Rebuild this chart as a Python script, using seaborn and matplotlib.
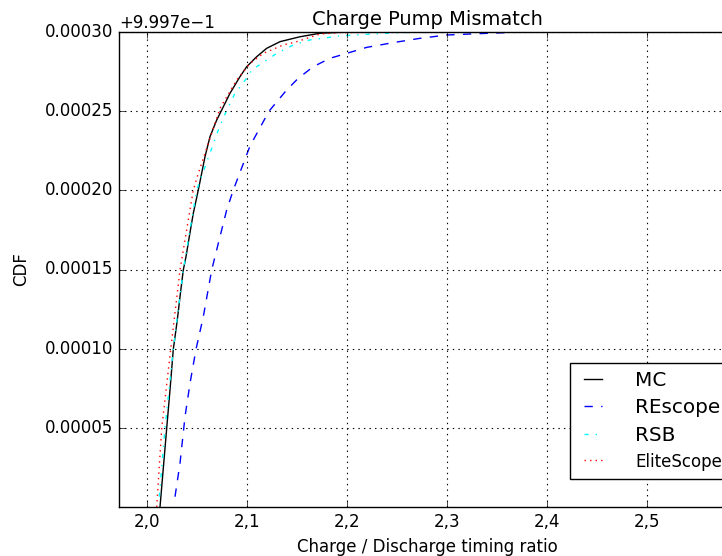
import numpy as np
import pandas as pd
import seaborn as sns
import matplotlib.pyplot as plt
from matplotlib.ticker import FuncFormatter

plt.style.use("classic")
plt.rcParams.update({
    "figure.facecolor": "white",
    "savefig.facecolor": "white",
    "font.family": "DejaVu Sans",
})

OFFSET = 0.9997
SCALE = 1e-5  # y values below are CDF - OFFSET, in units of 1e-5

mc_x = [2.013, 2.0197, 2.023, 2.0263, 2.0303, 2.033, 2.0363, 2.039, 2.0423, 2.0463, 2.0513,
        2.058, 2.063, 2.0697, 2.0747, 2.083, 2.093, 2.0997, 2.1097, 2.1197, 2.133, 2.153,
        2.173, 2.193, 2.25, 2.38]
mc_y = [0, 4.97, 7.39, 9.96, 11.81, 13.28, 14.97, 15.81, 17.07, 18.55, 20.02,
        22.12, 23.39, 24.44, 25.07, 26.13, 27.18, 27.81, 28.44, 28.97, 29.39, 29.7,
        29.92, 29.98, 30, 30]

rescope_x = [2.028, 2.033, 2.038, 2.043, 2.049, 2.0563, 2.0647, 2.0713, 2.0797, 2.0863,
             2.0913, 2.103, 2.122, 2.1397, 2.1513, 2.1663, 2.183, 2.1997, 2.2197, 2.2463,
             2.273, 2.2997, 2.333, 2.376]
rescope_y = [0.65, 2.76, 5.7, 7.81, 9.96, 12.02, 14.97, 16.65, 18.76, 20.02,
             20.85, 22.8, 25.0, 26.34, 27.08, 27.81, 28.34, 28.65, 29.03, 29.33,
             29.6, 29.81, 29.9, 30]

rsb_x = [2.0123, 2.018, 2.0263, 2.0363, 2.0497, 2.0713, 2.0797, 2.088, 2.0997, 2.1047,
         2.1197, 2.1297, 2.1463, 2.163, 2.193, 2.223, 2.26, 2.30]
rsb_y = [0.65, 4.97, 9.96, 14.97, 20.02, 23.81, 25.07, 26.13, 27.08, 27.6,
         28.23, 28.65, 29.18, 29.5, 29.75, 29.87, 29.97, 30]

elite_x = [2.0097, 2.0147, 2.0237, 2.033, 2.0463, 2.0513, 2.058, 2.073, 2.0897, 2.103,
           2.1163, 2.1363, 2.1497, 2.173, 2.193, 2.213, 2.25, 2.30]
elite_y = [0, 4.97, 9.96, 14.97, 20.02, 21.07, 22.34, 25.18, 26.97, 28.02,
           28.65, 29.18, 29.39, 29.87, 29.96, 29.97, 30, 30]

xticks = [2.0, 2.1, 2.2, 2.3, 2.4, 2.5]
yticks_res = [5, 10, 15, 20, 25, 30]

fig = plt.figure(figsize=(7.22, 5.56), dpi=100)
ax = fig.add_axes([119 / 722, 49 / 556, 616 / 722, 475 / 556])

series = [
    ("MC", mc_x, mc_y, "black", "-"),
    ("REscope", rescope_x, rescope_y, "blue", "--"),
    ("RSB", rsb_x, rsb_y, "cyan", "-."),
    ("EliteScope", elite_x, elite_y, "red", ":"),
]
for name, xs, ys, col, ls in series:
    df = pd.DataFrame({"x": xs, "cdf": OFFSET + np.array(ys) * SCALE})
    sns.lineplot(data=df, x="x", y="cdf", ax=ax, color=col, linestyle=ls,
                 linewidth=1.0, label=name, sort=False, estimator=None)

ax.set_xlim(1.972, 2.588)
ax.set_ylim(OFFSET, OFFSET + 30 * SCALE)
ax.set_xticks(xticks)
ax.set_yticks([OFFSET + v * SCALE for v in yticks_res])
ax.xaxis.set_major_formatter(FuncFormatter(lambda v, p: f"{v:.1f}".replace(".", ",")))
ax.yaxis.set_major_formatter(FuncFormatter(lambda v, p: f"{v - OFFSET:.5f}"))
ax.text(0.0, 1.0, "+9.997e\u22121", transform=ax.transAxes, ha="left", va="bottom", fontsize=12)
ax.grid(True, color="black", linestyle=":", linewidth=0.8)

ax.set_title("Charge Pump Mismatch", fontsize=14)
ax.set_xlabel("Charge / Discharge timing ratio", fontsize=12)
ax.set_ylabel("CDF", fontsize=12, labelpad=11)

leg = ax.legend(loc="lower left", bbox_to_anchor=(570 / 722, 77 / 556),
                bbox_transform=fig.transFigure, borderaxespad=0,
                fontsize=14.4, handlelength=1.5, handletextpad=1.35,
                labelspacing=0.42, frameon=True)
leg.get_texts()[3].set_fontsize(12)

fig.savefig("out.png", dpi=100)
